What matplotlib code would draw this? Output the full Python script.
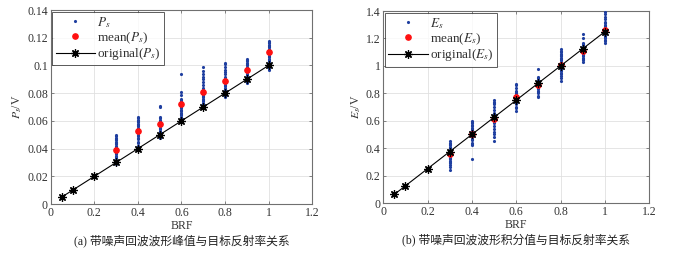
import matplotlib
matplotlib.use("Agg")
import matplotlib.pyplot as plt

brf_orig = [0.05, 0.1, 0.2, 0.3, 0.4, 0.5, 0.6, 0.7, 0.8, 0.9, 1.0]
ps_orig = [0.005, 0.01, 0.02, 0.03, 0.04, 0.05, 0.06, 0.07, 0.08, 0.09, 0.10]
es_orig = [0.0625, 0.125, 0.25, 0.375, 0.5, 0.625, 0.75, 0.875, 1.0, 1.125, 1.25]

brf_groups = [0.3, 0.4, 0.5, 0.6, 0.7, 0.8, 0.9, 1.0]
ps_mean = [0.039, 0.053, 0.058, 0.072, 0.081, 0.089, 0.0965, 0.1095]
es_mean = [0.36, 0.50, 0.61, 0.77, 0.86, 1.01, 1.11, 1.265]

ps_samples = [
    [0.029, 0.031, 0.032, 0.033, 0.034, 0.035, 0.036, 0.037, 0.038, 0.039, 0.040, 0.041, 0.042, 0.043, 0.044, 0.045, 0.046, 0.047, 0.048, 0.049, 0.050],
    [0.040, 0.042, 0.044, 0.045, 0.047, 0.048, 0.049, 0.050, 0.051, 0.052, 0.053, 0.054, 0.055, 0.056, 0.057, 0.058, 0.059, 0.060, 0.061, 0.062, 0.063],
    [0.048, 0.049, 0.050, 0.051, 0.052, 0.053, 0.054, 0.055, 0.056, 0.057, 0.058, 0.059, 0.060, 0.061, 0.062, 0.063, 0.070, 0.071],
    [0.059, 0.061, 0.062, 0.063, 0.064, 0.065, 0.066, 0.067, 0.068, 0.069, 0.070, 0.071, 0.072, 0.073, 0.074, 0.075, 0.076, 0.079, 0.081, 0.094],
    [0.069, 0.070, 0.071, 0.072, 0.073, 0.074, 0.075, 0.076, 0.077, 0.078, 0.079, 0.080, 0.082, 0.084, 0.086, 0.088, 0.090, 0.092, 0.094, 0.096, 0.099],
    [0.077, 0.078, 0.079, 0.080, 0.081, 0.082, 0.083, 0.084, 0.085, 0.086, 0.087, 0.088, 0.090, 0.092, 0.094, 0.095, 0.097, 0.099, 0.101, 0.102],
    [0.087, 0.088, 0.089, 0.090, 0.091, 0.092, 0.093, 0.094, 0.095, 0.096, 0.097, 0.098, 0.099, 0.100, 0.101, 0.102, 0.103, 0.104, 0.105],
    [0.097, 0.098, 0.099, 0.100, 0.101, 0.102, 0.103, 0.104, 0.105, 0.106, 0.107, 0.108, 0.109, 0.110, 0.111, 0.112, 0.113, 0.114, 0.115, 0.116, 0.117, 0.118],
]

es_samples = [
    [0.24, 0.26, 0.28, 0.29, 0.30, 0.31, 0.32, 0.33, 0.34, 0.35, 0.36, 0.37, 0.38, 0.39, 0.40, 0.41, 0.42, 0.43, 0.44, 0.45],
    [0.32, 0.42, 0.43, 0.44, 0.46, 0.47, 0.48, 0.49, 0.50, 0.51, 0.52, 0.53, 0.54, 0.55, 0.56, 0.57, 0.58, 0.59, 0.60],
    [0.45, 0.48, 0.50, 0.52, 0.54, 0.56, 0.58, 0.60, 0.61, 0.62, 0.63, 0.64, 0.65, 0.66, 0.68, 0.70, 0.72, 0.73, 0.74, 0.75],
    [0.67, 0.69, 0.70, 0.72, 0.73, 0.74, 0.75, 0.76, 0.77, 0.78, 0.79, 0.80, 0.81, 0.82, 0.84, 0.86, 0.87],
    [0.77, 0.78, 0.80, 0.81, 0.82, 0.83, 0.84, 0.85, 0.86, 0.87, 0.88, 0.89, 0.90, 0.91, 0.92, 0.98],
    [0.89, 0.91, 0.93, 0.94, 0.95, 0.96, 0.97, 0.98, 0.99, 1.00, 1.01, 1.02, 1.03, 1.04, 1.05, 1.06, 1.07, 1.08, 1.09, 1.10, 1.11, 1.12],
    [1.03, 1.04, 1.05, 1.06, 1.07, 1.08, 1.09, 1.10, 1.11, 1.12, 1.13, 1.14, 1.15, 1.16, 1.17, 1.20, 1.23],
    [1.17, 1.18, 1.19, 1.20, 1.21, 1.22, 1.23, 1.24, 1.25, 1.26, 1.27, 1.28, 1.29, 1.30, 1.31, 1.32, 1.34, 1.36, 1.38, 1.39],
]

plt.rcParams['font.family'] = ['Liberation Serif', 'Noto Sans CJK SC']
plt.rcParams['mathtext.fontset'] = 'stix'

fig = plt.figure(figsize=(6.77, 2.57), dpi=100)
ax1 = fig.add_axes([0.075, 0.206, 0.386, 0.755])
ax2 = fig.add_axes([0.566, 0.210, 0.393, 0.747])

blue = '#1f3fa0'
ast = (8, 2, 0)

def draw(ax, samples, mean, orig, sym, ymax, ystep, ylabel_txt, caption):
    xs, ys = [], []
    for b, vals in zip(brf_groups, samples):
        xs += [b] * len(vals)
        ys += vals
    ax.plot(xs, ys, '.', color=blue, markersize=2.5, label=r'$%s$' % sym, zorder=3)
    ax.plot(brf_groups, mean, 'o', color='#ff1010', markersize=3.8, label=r'mean($%s$)' % sym, zorder=4)
    ax.plot(brf_orig, orig, '-', color='black', lw=0.8, marker=ast, markersize=6,
            markeredgewidth=0.9, label=r'original($%s$)' % sym, zorder=5)
    ax.set_xlim(0, 1.2)
    ax.set_ylim(0, ymax)
    ax.set_xticks([0, 0.2, 0.4, 0.6, 0.8, 1.0, 1.2])
    ax.set_xticklabels(['0', '0.2', '0.4', '0.6', '0.8', '1', '1.2'])
    yt = [round(i * ystep, 4) for i in range(int(round(ymax / ystep)) + 1)]
    ax.set_yticks(yt)
    ax.set_yticklabels([('%g' % v) for v in yt])
    ax.grid(True, color='#e0e0e0', lw=0.6)
    ax.set_axisbelow(True)
    for s in ax.spines.values():
        s.set_color('#707070')
        s.set_linewidth(0.8)
    ax.tick_params(direction='in', length=2.5, width=0.6, colors='#707070', labelcolor='#333333',
                   labelsize=8.5, pad=2, top=True, right=True)
    ax.set_xlabel('BRF', fontsize=8.5, color='#333333', labelpad=0.5)
    ax.set_ylabel(ylabel_txt, fontsize=8.5, color='#333333', labelpad=2)
    leg = ax.legend(loc='upper left', fontsize=9.5, frameon=True, fancybox=False,
                    borderaxespad=0.12, handlelength=3.0, handletextpad=0.15,
                    labelspacing=0.04, borderpad=0.25, edgecolor='#333333')
    leg.get_frame().set_linewidth(0.7)
    for t in leg.get_texts():
        t.set_color('#333333')
    ax.text(0.5, -0.19, caption, transform=ax.transAxes, ha='center', va='center',
            fontsize=8.5, color='#222222')

draw(ax1, ps_samples, ps_mean, ps_orig, 'P_s', 0.14, 0.02, r'$P_s$/V', '(a) 带噪声回波波形峰值与目标反射率关系')
draw(ax2, es_samples, es_mean, es_orig, 'E_s', 1.4, 0.2, r'$E_s$/V', '(b) 带噪声回波波形积分值与目标反射率关系')

fig.savefig('out.png', dpi=100)
